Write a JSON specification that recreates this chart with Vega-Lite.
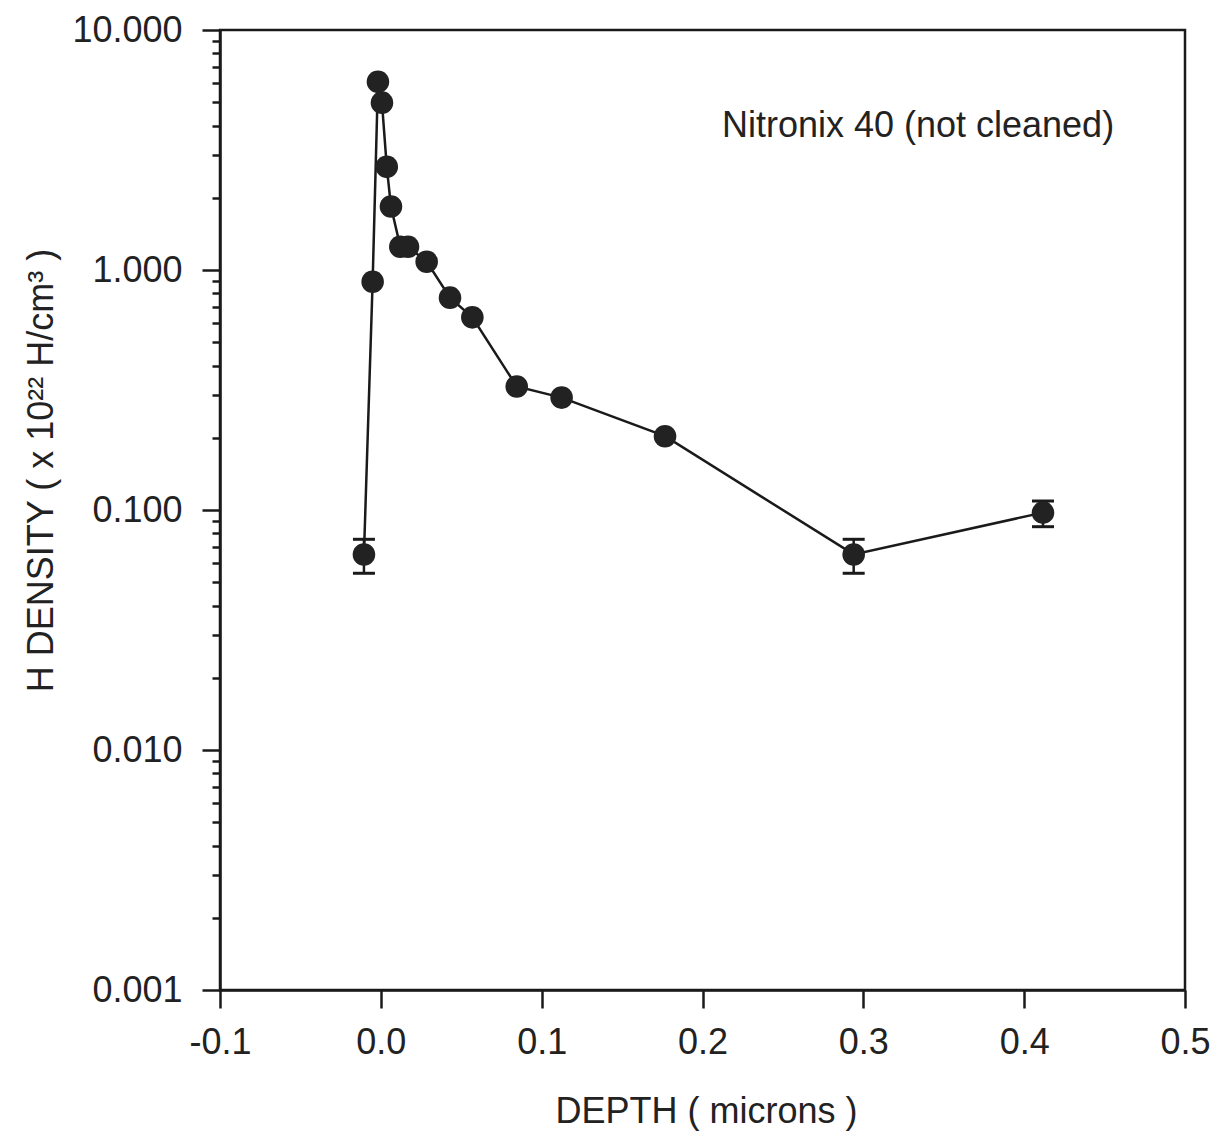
{
  "$schema": "https://vega.github.io/schema/vega-lite/v6.json",
  "autosize": "none",
  "padding": {"left": 220, "top": 30, "right": 34, "bottom": 151},
  "width": 965,
  "height": 960,
  "background": "white",
  "config": {
    "view": {"stroke": "#1a1a1a", "strokeWidth": 2.5},
    "font": "Liberation Sans",
    "axis": {
      "grid": false,
      "domainColor": "#1a1a1a",
      "domainWidth": 2.5,
      "tickColor": "#1a1a1a",
      "tickWidth": 2.5,
      "labelFont": "Liberation Sans",
      "labelFontSize": 36,
      "labelColor": "#222222",
      "titleFont": "Liberation Sans",
      "titleFontSize": 36,
      "titleFontWeight": "normal",
      "titleColor": "#222222"
    }
  },
  "datasets": {
    "profile": [
      {"depth": -0.0105, "density": 0.0653, "lo": 0.0545, "hi": 0.0755},
      {"depth": -0.0051, "density": 0.894},
      {"depth": -0.0018, "density": 6.09},
      {"depth": 0.0007, "density": 4.98},
      {"depth": 0.0037, "density": 2.69},
      {"depth": 0.0063, "density": 1.84},
      {"depth": 0.0121, "density": 1.25},
      {"depth": 0.0169, "density": 1.25},
      {"depth": 0.0285, "density": 1.083},
      {"depth": 0.043, "density": 0.767},
      {"depth": 0.0569, "density": 0.635},
      {"depth": 0.0845, "density": 0.327},
      {"depth": 0.1124, "density": 0.294},
      {"depth": 0.1767, "density": 0.203},
      {"depth": 0.294, "density": 0.0653, "lo": 0.0545, "hi": 0.0755},
      {"depth": 0.4117, "density": 0.0975, "lo": 0.0852, "hi": 0.109}
    ],
    "note": [
      {"depth": 0.334, "density": 3.98, "label": "Nitronix 40 (not cleaned)"}
    ]
  },
  "encoding": {
    "x": {
      "field": "depth",
      "type": "quantitative",
      "scale": {"domain": [-0.1, 0.5], "nice": false, "zero": false},
      "axis": {
        "values": [-0.1, 0, 0.1, 0.2, 0.3, 0.4, 0.5],
        "format": ".1f",
        "labelExpr": "replace(datum.label, '\u2212', '-')",
        "tickSize": 18,
        "labelPadding": 45,
        "labelBaseline": "alphabetic",
        "labelFlush": false,
        "labelOverlap": false,
        "title": "DEPTH ( microns )",
        "titleBaseline": "alphabetic",
        "titleAnchor": "start",
        "titleAlign": "center",
        "titleX": 486,
        "titleY": 132
      }
    }
  },
  "resolve": {"axis": {"y": "independent"}},
  "layer": [
    {
      "data": {"name": "profile"},
      "mark": {"type": "line", "color": "#1a1a1a", "strokeWidth": 2.5},
      "encoding": {
        "y": {
          "field": "density",
          "type": "quantitative",
          "scale": {"type": "log", "domain": [0.001, 10], "nice": false},
          "axis": {
            "orient": "left",
            "values": [0.002, 0.003, 0.004, 0.005, 0.006, 0.007, 0.008, 0.009, 0.02, 0.03, 0.04, 0.05, 0.06, 0.07, 0.08, 0.09, 0.2, 0.3, 0.4, 0.5, 0.6, 0.7, 0.8, 0.9, 2, 3, 4, 5, 6, 7, 8, 9],
            "tickSize": 8,
            "labels": false,
            "domain": false,
            "title": null
          }
        }
      }
    },
    {
      "data": {"name": "profile"},
      "transform": [{"filter": "isValid(datum.lo)"}],
      "mark": {
        "type": "errorbar",
        "color": "#1a1a1a",
        "opacity": 1,
        "ticks": {"size": 22, "thickness": 3, "color": "#1a1a1a", "opacity": 1},
        "rule": {"strokeWidth": 2.5, "color": "#1a1a1a", "opacity": 1}
      },
      "encoding": {
        "y": {
          "field": "lo",
          "type": "quantitative",
          "scale": {"type": "log", "domain": [0.001, 10], "nice": false},
          "axis": null
        },
        "y2": {"field": "hi"}
      }
    },
    {
      "data": {"name": "profile"},
      "mark": {"type": "circle", "size": 510, "color": "#222222", "opacity": 1},
      "encoding": {
        "y": {
          "field": "density",
          "type": "quantitative",
          "scale": {"type": "log", "domain": [0.001, 10], "nice": false},
          "axis": {
            "orient": "left",
            "values": [0.001, 0.01, 0.1, 1, 10],
            "format": ".3f",
            "tickSize": 18,
            "labelPadding": 20,
            "labelBaseline": "middle",
            "labelFlush": false,
            "labelOverlap": false,
            "title": "H DENSITY ( x 10²²  H/cm³  )",
            "titleAngle": -90,
            "titleBaseline": "alphabetic",
            "titleAlign": "center",
            "titleX": -168,
            "titleY": 440
          }
        }
      }
    },
    {
      "data": {"name": "note"},
      "mark": {"type": "text", "font": "Liberation Sans", "fontSize": 36, "color": "#222222", "align": "center", "baseline": "middle"},
      "encoding": {
        "y": {
          "field": "density",
          "type": "quantitative",
          "scale": {"type": "log", "domain": [0.001, 10], "nice": false},
          "axis": null
        },
        "text": {"field": "label"}
      }
    }
  ]
}
